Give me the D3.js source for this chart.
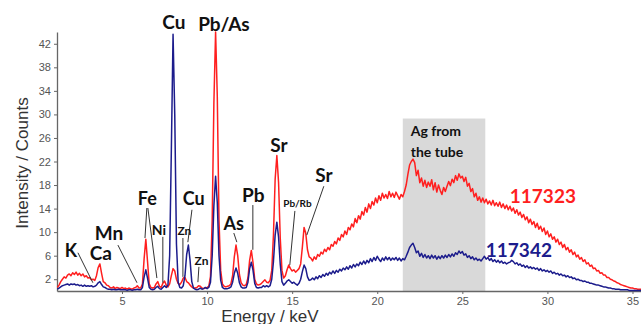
<!DOCTYPE html>
<html>
<head>
<meta charset="utf-8">
<script src="https://cdn.jsdelivr.net/npm/d3@7"></script>
<style>
  body { margin: 0; background: #fff; }
  svg { display: block; }
  .axis text { font-family: "Liberation Sans", Arial, sans-serif; font-size: 11px; fill: #555; }
  .axis path, .axis line { stroke: #666; }
  .lbl { font-family: Lato, "Open Sans", sans-serif; font-weight: bold; fill: #111; }
</style>
</head>
<body>
<svg id="chart" width="641" height="324"></svg>
<script>
// energy grid of the spectra (keV): first channel and channel width
const startKeV = 1.2;
const stepKeV = 0.1;

// counts of sample 117323 (red), one value per 0.1 keV from 1.2 keV
const red117323 = [
  0.6, 1.0, 1.6, 2.0, 2.4, 2.2, 2.7, 2.9, 2.6,
  3.1, 2.8, 3.2, 2.7, 3.0, 2.6, 2.9, 2.4, 2.6, 2.2,
  2.3, 1.9, 2.0, 1.8, 2.6, 4.0, 4.6, 3.0, 1.6, 1.4,
  1.0, 0.9, 0.6, 0.5, 0.7, 0.4, 0.6, 0.5, 0.4, 0.6,
  0.4, 0.5, 0.3, 0.5, 0.4, 0.3, 0.5, 0.6, 0.9, 0.5,
  0.5, 1.2, 5.5, 8.8, 5.0, 1.2, 0.6, 0.5, 0.6, 1.2,
  1.6, 0.8, 0.6, 1.3, 1.7, 1.0, 0.7, 1.2, 2.6, 3.8,
  3.4, 2.0, 1.3, 1.1, 1.5, 2.2, 2.3, 1.6, 1.4, 1.0,
  0.7, 0.5, 0.5, 0.6, 0.9, 0.8, 0.5, 0.4, 0.5, 0.6,
  0.8, 2.5, 12.0, 32.0, 44.0, 33.0, 12.0, 3.5, 1.2, 0.8,
  0.7, 0.8, 0.9, 1.2, 2.6, 5.8, 7.8, 6.0, 2.8, 1.4,
  1.0, 0.9, 1.1, 2.2, 5.2, 6.9, 4.8, 2.0, 1.2, 1.0,
  1.1, 1.3, 1.6, 1.9, 1.5, 1.4, 1.8, 3.5, 9.5, 19.0,
  23.0, 18.5, 9.0, 3.5, 2.2, 2.6, 3.6, 4.4, 3.8, 3.4,
  3.6, 3.2, 3.5, 3.8, 4.6, 7.5, 10.8, 9.8, 7.0, 5.8,
  5.6, 5.1, 5.8, 5.4, 6.2, 5.9, 6.6, 6.3, 7.1, 6.7,
  7.4, 7.0, 7.9, 7.6, 8.4, 8.0, 9.0, 8.6, 9.6, 9.2,
  10.2, 9.6, 10.8, 10.4, 11.4, 10.9, 12.3, 11.6, 12.8, 12.2,
  13.5, 12.9, 14.2, 13.4, 14.8, 14.0, 15.2, 14.6, 15.8, 15.0,
  16.2, 15.4, 16.6, 15.8, 16.4, 15.7, 16.9, 16.0, 16.6, 15.9,
  16.8, 16.2, 15.6, 16.4, 16.0, 16.9, 18.0, 19.8, 21.4, 22.0,
  22.4, 21.8, 19.6, 20.5, 18.4, 19.2, 17.8, 18.8, 17.6, 18.5,
  17.8, 18.9, 17.2, 18.4, 16.8, 18.0, 17.1, 16.4, 17.6, 16.9,
  17.8, 18.6, 17.9, 19.0, 18.4, 19.6, 18.8, 19.9, 19.2, 19.5,
  18.6, 19.3, 17.8, 18.3, 16.9, 17.4, 16.0, 16.6, 15.4, 16.0,
  15.1, 15.8, 15.0, 15.6, 14.8, 15.3, 14.6, 15.4, 14.5, 15.0,
  14.4, 15.1, 14.2, 14.8, 14.0, 14.6, 13.8, 14.4, 13.6, 14.1,
  13.2, 13.8, 12.9, 13.4, 12.5, 13.0, 12.1, 12.6, 11.6, 12.2,
  11.3, 11.8, 10.8, 11.5, 10.5, 11.0, 10.1, 10.7, 9.6, 10.2,
  9.2, 9.7, 8.8, 9.2, 8.3, 8.8, 7.9, 8.3, 7.4, 7.9,
  7.0, 7.4, 6.6, 7.0, 6.2, 6.6, 5.8, 6.1, 5.4, 5.7,
  5.0, 5.3, 4.6, 4.8, 4.2, 4.4, 3.8, 3.9, 3.4, 3.5,
  3.0, 3.1, 2.7, 2.7, 2.3, 2.3, 2.0, 1.9, 1.7, 1.6,
  1.4, 1.3, 1.1, 1.0, 0.9, 0.8, 0.7, 0.6, 0.5, 0.5,
  0.4, 0.4, 0.3, 0.3, 0.3
];

// counts of sample 117342 (blue), same grid
const blue117342 = [
  0.3, 0.5, 0.7, 0.9, 1.0, 1.1, 1.2, 1.0, 1.2,
  1.1, 1.2, 1.0, 1.1, 0.9, 1.0, 0.8, 1.0, 0.8, 0.9,
  0.8, 0.9, 0.7, 0.8, 1.0, 1.4, 1.6, 1.1, 0.7, 0.6,
  0.4, 0.3, 0.3, 0.2, 0.3, 0.2, 0.2, 0.3, 0.2, 0.2,
  0.2, 0.2, 0.1, 0.2, 0.2, 0.1, 0.2, 0.2, 0.3, 0.2,
  0.2, 0.6, 2.4, 3.6, 2.2, 0.6, 0.3, 0.2, 0.3, 0.6,
  0.8, 0.4, 0.3, 0.6, 0.9, 0.6, 1.0, 6.0, 24.0, 43.6,
  30.0, 8.0, 1.5, 0.6, 0.5, 0.9, 2.6, 6.2, 7.8, 5.2,
  1.6, 0.5, 0.3, 0.2, 0.3, 0.5, 0.3, 0.4, 0.6, 0.4,
  0.6, 1.5, 6.0, 14.5, 19.5, 15.0, 6.0, 1.8, 0.6, 0.4,
  0.4, 0.4, 0.5, 0.7, 1.5, 3.0, 3.9, 3.0, 1.4, 0.7,
  0.5, 0.5, 0.6, 1.5, 3.8, 4.9, 3.5, 1.3, 0.6, 0.5,
  0.6, 0.6, 0.9, 0.7, 0.9, 0.7, 0.9, 2.0, 5.0, 9.5,
  11.7, 9.2, 4.5, 1.6, 1.0, 1.3, 1.7, 1.9, 1.6, 1.3,
  1.5, 1.2, 1.0, 1.3, 2.0, 3.3, 4.4, 3.8, 2.4, 1.8,
  1.9, 2.2, 1.9, 2.4, 2.1, 2.6, 2.3, 2.8, 2.5, 3.0,
  2.7, 3.2, 2.9, 3.4, 3.0, 3.5, 3.2, 3.7, 3.4, 3.9,
  3.6, 4.1, 3.7, 4.3, 3.9, 4.5, 4.1, 4.6, 4.3, 4.9,
  4.5, 5.1, 4.6, 5.2, 4.8, 5.5, 5.0, 5.7, 5.2, 5.9,
  5.4, 5.0, 5.6, 5.2, 5.8, 5.3, 5.7, 5.2, 5.6, 5.3,
  5.7, 5.2, 5.6, 5.1, 5.5, 5.3, 5.9, 6.6, 7.4, 7.8,
  8.1, 7.4, 6.5, 6.8, 5.9, 6.4, 5.7, 6.2, 5.6, 6.0,
  5.5, 6.1, 5.6, 6.0, 5.4, 5.9, 5.5, 6.0, 5.6, 6.1,
  5.7, 6.2, 5.8, 6.3, 5.9, 6.5, 6.2, 6.8, 6.4, 6.7,
  6.1, 6.3, 5.7, 6.0, 5.5, 5.8, 5.3, 5.6, 5.2, 5.4,
  5.1, 5.5, 5.9, 5.4, 5.7, 5.2, 5.5, 5.0, 5.3, 4.9,
  5.2, 4.8, 5.1, 4.7, 4.9, 4.6, 4.8, 4.9, 5.2, 5.0,
  4.6, 4.8, 4.4, 4.6, 4.2, 4.4, 4.0, 4.3, 3.9, 4.1,
  3.8, 4.0, 3.7, 3.9, 3.5, 3.8, 3.4, 3.6, 3.3, 3.5,
  3.2, 3.4, 3.0, 3.2, 2.9, 3.0, 2.7, 2.9, 2.6, 2.7,
  2.4, 2.6, 2.3, 2.4, 2.1, 2.2, 1.9, 2.0, 1.8, 1.8,
  1.6, 1.7, 1.5, 1.5, 1.3, 1.3, 1.2, 1.1, 1.0, 1.0,
  0.9, 0.8, 0.7, 0.7, 0.6, 0.5, 0.5, 0.4, 0.4, 0.3,
  0.3, 0.3, 0.2, 0.2, 0.2, 0.2, 0.2, 0.1, 0.1, 0.1,
  0.1, 0.1, 0.1, 0.1, 0.1
];

const xTicks = [5, 10, 15, 20, 25, 30, 35];
const yTicks = [2, 6, 10, 14, 18, 22, 26, 30, 34, 38, 42];

// Ag tube band (keV) and its height (counts)
const agBand = [21.5, 26.35];
const agTop = 29.3;

// element labels: text, energy, counts (baseline), font size
const peakLabels = [
  ['Cu', 8.05, 44.5, 19], ['Pb/As', 10.99, 44.2, 19], ['Sr', 14.22, 23.6, 19],
  ['Sr', 16.86, 18.5, 19], ['Pb', 12.72, 15.1, 19], ['As', 11.57, 10.4, 18],
  ['Pb/Rb', 15.31, 14.3, 10], ['Fe', 6.49, 14.6, 18], ['Ni', 7.17, 9.5, 14],
  ['Zn', 8.67, 9.5, 12], ['Cu', 9.22, 14.6, 18], ['Zn', 9.67, 4.4, 12],
  ['Mn', 4.23, 8.7, 19], ['K', 2.0, 5.8, 18], ['Ca', 3.76, 5.3, 19]
];

// leader lines: [keV1, counts1, keV2, counts2]
const leaders = [
  [6.46, 14.1, 6.35, 9.0], [6.52, 14.1, 7.05, 2.2], [7.40, 9.2, 7.40, 1.4],
  [8.58, 9.0, 8.58, 2.4], [9.11, 13.8, 8.87, 8.3], [9.52, 4.1, 9.46, 1.5],
  [4.76, 7.8, 5.88, 1.4], [2.41, 6.5, 3.29, 1.4], [11.57, 9.85, 11.75, 8.3],
  [12.69, 14.6, 12.69, 7.0], [15.16, 13.6, 14.86, 4.4], [16.86, 17.8, 15.86, 9.5]
];

const svg = d3.select('#chart');

const x = d3.scaleLinear().domain([1.18, 35.5]).range([57, 641]);
const y = d3.scaleLinear().domain([0, 44]).range([291, 32]);

// grey band for the silver lines of the tube
svg.append('rect')
    .attr('x', x(agBand[0]))
    .attr('y', y(agTop))
    .attr('width', x(agBand[1]) - x(agBand[0]))
    .attr('height', y(0) - y(agTop))
    .attr('fill', '#d9d9d9');

svg.append('text').attr('class', 'lbl')
    .attr('x', x(agBand[0]) + 8).attr('y', y(26.3))
    .style('font-size', '14px').text('Ag from');
svg.append('text').attr('class', 'lbl')
    .attr('x', x(agBand[0]) + 8).attr('y', y(22.75))
    .style('font-size', '14px').text('the tube');

// axes
svg.append('g')
    .attr('class', 'axis')
    .attr('transform', 'translate(0,' + y(0) + ')')
    .call(d3.axisBottom(x).tickValues(xTicks).tickSize(3).tickSizeOuter(0));

svg.append('g')
    .attr('class', 'axis')
    .attr('transform', 'translate(' + x.range()[0] + ',0)')
    .call(d3.axisLeft(y).tickValues(yTicks).tickSize(3).tickSizeOuter(0));

svg.selectAll('.axis .domain').attr('stroke-width', 1.3);

// axis titles
svg.append('text')
    .attr('transform', 'translate(28,163) rotate(-90)')
    .attr('text-anchor', 'middle')
    .style('font-family', '"Liberation Sans", Arial, sans-serif')
    .style('font-size', '17px')
    .style('fill', '#333')
    .text('Intensity / Counts');

svg.append('text')
    .attr('x', 270).attr('y', 322)
    .attr('text-anchor', 'middle')
    .style('font-family', '"Liberation Sans", Arial, sans-serif')
    .style('font-size', '17px')
    .style('fill', '#333')
    .text('Energy / keV');

// spectra
const line = d3.line()
    .x((d, i) => x(startKeV + i * stepKeV))
    .y(d => y(d));

svg.append('path')
    .datum(red117323)
    .attr('fill', 'none')
    .attr('stroke', '#ff1f1f')
    .attr('stroke-width', 1.5)
    .attr('stroke-linejoin', 'round')
    .attr('d', line);

svg.append('path')
    .datum(blue117342)
    .attr('fill', 'none')
    .attr('stroke', '#1c1c8c')
    .attr('stroke-width', 1.5)
    .attr('stroke-linejoin', 'round')
    .attr('d', line);

// leader lines and element labels
svg.selectAll('.leader')
    .data(leaders)
    .enter().append('line')
    .attr('x1', d => x(d[0])).attr('y1', d => y(d[1]))
    .attr('x2', d => x(d[2])).attr('y2', d => y(d[3]))
    .attr('stroke', '#333')
    .attr('stroke-width', 1);

svg.selectAll('.peak')
    .data(peakLabels)
    .enter().append('text')
    .attr('class', 'lbl')
    .attr('x', d => x(d[1]))
    .attr('y', d => y(d[2]))
    .attr('text-anchor', 'middle')
    .style('font-size', d => d[3] + 'px')
    .text(d => d[0]);

// sample names
svg.append('text').attr('class', 'lbl')
    .attr('x', x(27.79)).attr('y', y(14.95))
    .style('font-size', '19px').style('fill', '#ff1f1f')
    .text('117323');

svg.append('text').attr('class', 'lbl')
    .attr('x', x(26.38)).attr('y', y(5.78))
    .style('font-size', '19px').style('fill', '#1c1c8c')
    .text('117342');
</script>
</body>
</html>
